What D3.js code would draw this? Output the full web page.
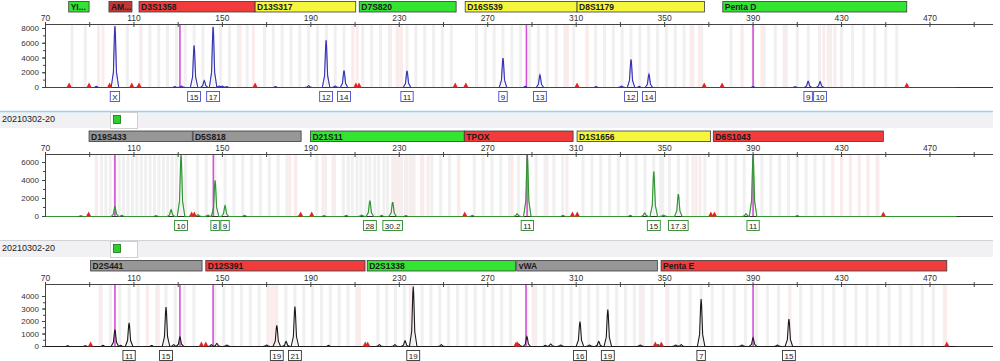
<!DOCTYPE html>
<html><head><meta charset="utf-8">
<script src="https://cdn.jsdelivr.net/npm/d3@7"></script>
<style>body{margin:0;background:#fff;} svg{display:block;font-family:"Liberation Sans",Arial,sans-serif;}</style>
</head><body><svg id="c" width="1000" height="361"></svg>
<script>
// ---------------- DATA ----------------
const sampleName = "20210302-20";
const xTicks = [70,110,150,190,230,270,310,350,390,430,470];
const xMinorTicks = [90,130,170,210,250,290,330,370,410,450,490];

// Panel 1 (blue)
const lociTopNames = ["YI...","AM...","D3S1358","D13S317","D7S820","D16S539","D8S1179","Penta D"];
const lociTopStart = [80.5, 98.7, 112.3, 164.8, 211.9, 259.8, 310.4, 376.3];
const lociTopEnd   = [89.7, 109.1, 164.8, 210.3, 255.7, 310.4, 368.0, 459.5];
const lociTopColor = ["green","darkred","red","yellow","green","yellow","yellow","green"];
const yTicksTop = [0,2000,4000,6000,8000];
const peaksTopBp = [80.5, 93.0, 101.4, 112.0, 128.5, 131.5, 137.2, 141.8, 145.8, 148.5, 150.0, 152.0, 174.0, 189.0, 196.9, 201.0, 205.0, 233.5, 276.9, 287.0, 293.6, 319.0, 330.5, 334.8, 338.5, 342.9, 390.0, 409.0, 414.9, 420.3];
const peaksTopH  = [60, 150, 8300, 120, 120, 200, 5700, 950, 8200, 200, 180, 120, 120, 250, 6400, 200, 2300, 2250, 4000, 150, 1700, 120, 200, 3800, 150, 1800, 120, 100, 850, 800];
const allelesTop   = ["X","15","17","12","14","11","9","13","12","14","9","10"];
const allelesTopBp = [101.4,137.2,145.8,196.9,205.0,233.5,276.9,293.6,334.8,342.9,414.9,420.3];
const redMarksTop = [80.7, 89.7, 99.0, 109.0, 112.3, 164.8, 210.4, 211.8, 255.3, 260.1, 310.4, 367.9, 376.0, 459.5];
const sizeStdTop = [130.8, 287.5, 390.0];
const binsTop = [82,88,101.4,107,113.2,117.2,121.2,125.2,129.2,133.2,137.2,141.2,145.8,149.2,153.2,157.2,161.2,169,173,177,181,185,189,193,197,201,205,209,213.5,217.5,221.5,225.5,229.5,233.5,237.5,241.5,245.5,249.5,253.5,264.9,268.9,272.9,276.9,280.9,284.9,288.9,292.9,296.9,300.9,304.9,308.9,314.8,318.8,322.8,326.8,330.8,334.8,338.8,342.8,346.8,350.8,354.8,358.8,362.8,366.8,380,385,390,395,400,405,410,415,420,425,430,435,440,445,450,455];
const pinkTop = [94,96,113,158,164,209,211,226,229,231,301,306,315,362,365.6,385,394,404,422,424,427];

// Panel 2 (green)
const lociMidNames = ["D19S433","D5S818","D21S11","TPOX","D1S1656","D6S1043"];
const lociMidStart = [89.7, 136.7, 189.8, 259.4, 310.4, 372.0];
const lociMidEnd   = [136.4, 185.6, 259.4, 308.6, 370.8, 448.9];
const lociMidColor = ["gray","gray","green","red","yellow","red"];
const yTicksMid = [0,2000,4000,6000];
const peaksMidBp = [86.0, 101.4, 104.5, 120.0, 126.8, 131.3, 139.0, 143.5, 146.7, 151.2, 160.0, 185.0, 196.0, 206.0, 213.0, 216.7, 222.0, 227.0, 233.0, 263.0, 283.3, 287.9, 304.0, 334.5, 341.0, 345.1, 349.5, 356.2, 386.8, 390.0, 410.0];
const peaksMidH  = [80, 1100, 120, 100, 750, 6800, 200, 150, 4000, 1200, 120, 120, 100, 120, 150, 1750, 120, 1600, 100, 120, 300, 6850, 120, 120, 400, 5000, 150, 2500, 300, 6800, 100];
const allelesMid   = ["10","8","9","28","30.2","11","15","17.3","11"];
const allelesMidBp = [131.3,146.7,151.2,216.7,227.0,287.9,345.1,356.2,390.0];
const redMarksMid = [89.5, 136.1, 137.3, 185.4, 190.4, 259.6, 308.3, 310.5, 370.9, 372.5, 448.9];
const sizeStdMid = [101.4, 145.9, 287.8, 390.0];
const binsMid = [95.3,97.3,99.3,101.3,103.3,105.3,107.3,109.3,111.3,113.3,115.3,117.3,119.3,121.3,123.3,125.3,127.3,129.3,131.3,133.3,138.7,142.7,146.7,151.2,155.2,159.2,163.2,167.2,171.2,175.2,179.2,183.2,192.7,196.7,200.7,204.7,206.9,208.7,210.9,212.7,214.9,216.7,218.9,220.7,223,224.7,227,228.7,231,232.7,235,236.7,240.7,244.7,248.7,252.7,256.7,263.9,267.9,271.9,275.9,279.9,283.9,287.9,291.9,295.9,299.9,303.9,313.1,317.1,321.1,325.1,329.1,333.1,337.1,341.1,345.1,348.2,349.1,352.2,356.2,360.2,364.2,368.2,374,378,382,386,390,394,398,402,406,410,414,418,422,426,430,434,438,442,446];
const pinkMid = [93,180.5,183,195.5,200,227.5,230,233.5,236,240,243,257,281,296.8,305.8,362.8,366,426,430,434,438,442,446.5];

// Panel 3 (black)
const lociBotNames = ["D2S441","D12S391","D2S1338","vWA","Penta E"];
const lociBotStart = [90.4, 142.5, 215.5, 283.1, 348.4];
const lociBotEnd   = [140.8, 214.5, 282.5, 346.7, 477.6];
const lociBotColor = ["gray","red","green","gray","red"];
const yTicksBot = [0,1000,2000,3000,4000];
const peaksBotBp = [80.0, 88.0, 96.0, 101.4, 104.0, 107.8, 118.0, 124.5, 128.0, 130.8, 145.0, 147.5, 152.0, 170.0, 174.6, 178.8, 182.8, 198.0, 221.0, 228.0, 232.6, 236.3, 249.0, 284.0, 287.7, 296.0, 298.5, 303.0, 311.7, 316.0, 320.2, 324.3, 339.0, 347.0, 355.0, 357.5, 366.5, 385.0, 390.0, 401.0, 406.2];
const peaksBotH  = [60, 60, 100, 1350, 100, 1900, 80, 3150, 150, 750, 150, 250, 120, 120, 1700, 400, 3200, 100, 150, 150, 450, 4800, 150, 200, 800, 100, 200, 120, 2000, 120, 400, 2950, 120, 150, 120, 150, 3800, 120, 700, 120, 2200];
const allelesBot   = ["11","15","19","21","19","16","19","7","15"];
const allelesBotBp = [107.8,124.5,174.6,182.8,236.3,311.7,324.3,366.5,406.2];
const redMarksBot = [90.4, 140.5, 142.5, 214.6, 215.7, 282.8, 283.4, 345.8, 348.5, 477.6];
const sizeStdBot = [101.4, 130.8, 145.8, 287.3, 390.0];
const binsBot = [95.2,99.4,103.6,107.8,111.9,116.1,120.3,124.5,128.7,132.9,137.1,146.6,150.6,154.6,158.6,162.6,166.6,170.6,174.6,178.7,182.8,186.8,190.8,194.8,198.8,202.8,206.8,210.8,220.3,224.3,228.3,232.3,236.3,240.3,244.3,248.3,252.3,256.3,260.3,264.3,268.3,272.3,276.3,280.3,287.7,291.7,295.7,299.7,303.7,307.7,311.7,315.7,319.7,324.3,328.3,332.3,336.3,340.3,344.3,351.5,356.5,361.5,366.5,371.5,376.5,381.5,386.5,391.5,396.5,401.5,406.5,411.5,416.5,421.5,426.5,431.5,436.5,441.5,446.5,451.5,456.5,461.5,466.5,471.5,476.5];
const pinkBot = [94.7,116,121,171,172.5,174,212,235,290.5,339,351,406.7,477];

// ---------------- RENDER ----------------
const svg = d3.select("#c");
const x = d3.scaleLinear().domain([70, 498.5]).range([45.5, 993]);
const barColors = {green:"#33e433", red:"#f23c3c", darkred:"#c23838", yellow:"#f6f63c", gray:"#979797"};

const panels = [
  {names:lociTopNames,start:lociTopStart,end:lociTopEnd,colors:lociTopColor,yTicks:yTicksTop,minor:1000,
   pBp:peaksTopBp,pH:peaksTopH,aTxt:allelesTop,aBp:allelesTopBp,red:redMarksTop,std:sizeStdTop,bins:binsTop,pink:pinkTop,
   barY:1.5,axisY:24,baseY:87,topVal:8000,topY:28,dye:"#3c3cd2",box:"#4a4ac8"},
  {names:lociMidNames,start:lociMidStart,end:lociMidEnd,colors:lociMidColor,yTicks:yTicksMid,minor:1000,
   pBp:peaksMidBp,pH:peaksMidH,aTxt:allelesMid,aBp:allelesMidBp,red:redMarksMid,std:sizeStdMid,bins:binsMid,pink:pinkMid,
   barY:131,axisY:154,baseY:216,topVal:6000,topY:162,dye:"#22b022",box:"#2a8a2a"},
  {names:lociBotNames,start:lociBotStart,end:lociBotEnd,colors:lociBotColor,yTicks:yTicksBot,minor:500,
   pBp:peaksBotBp,pH:peaksBotH,aTxt:allelesBot,aBp:allelesBotBp,red:redMarksBot,std:sizeStdBot,bins:binsBot,pink:pinkBot,
   barY:260.5,axisY:284,baseY:346,topVal:4000,topY:296,dye:"#1a1a1a",box:"#333"}
];

// header bands between panels
svg.append("rect").attr("x",0).attr("y",111).attr("width",993).attr("height",17).attr("fill","#f1f1f3");
svg.append("line").attr("x1",0).attr("x2",993).attr("y1",111.5).attr("y2",111.5).attr("stroke","#8fd6ea").attr("stroke-width",1.5);
svg.append("rect").attr("x",0).attr("y",240).attr("width",993).attr("height",17).attr("fill","#f1f1f3");
svg.append("line").attr("x1",0).attr("x2",993).attr("y1",240.5).attr("y2",240.5).attr("stroke","#d0d4d8").attr("stroke-width",1);
[[111,128],[240,257]].forEach(([y0,y1])=>{
  svg.append("text").attr("x",2).attr("y",y0+11).attr("font-size",9).attr("fill","#222").text(sampleName);
  svg.append("rect").attr("x",110.5).attr("y",y0+1.5).attr("width",27).attr("height",y1-y0-1).attr("fill","#fff").attr("stroke","#cfcfcf");
  svg.append("rect").attr("x",113.5).attr("y",y0+4.5).attr("width",7).attr("height",8).attr("fill","#2bd12b").attr("stroke","#1b6e1b").attr("stroke-width",0.8);
});

panels.forEach((p,pi)=>{
  const g = svg.append("g");
  const y = d3.scaleLinear().domain([0,p.topVal]).range([p.baseY,p.topY]);
  const clipId = "clip"+pi;
  svg.append("clipPath").attr("id",clipId).append("rect")
    .attr("x",45.5).attr("y",p.axisY+0.5).attr("width",993-45.5).attr("height",p.baseY-p.axisY+1);

  // bins
  const bg = g.append("g").attr("clip-path",`url(#${clipId})`);
  bg.selectAll("rect.bin").data(p.bins).join("rect").attr("class","bin")
    .attr("x",d=>x(d)-1.5).attr("width",3).attr("y",p.axisY+1).attr("height",p.baseY-p.axisY-1)
    .attr("fill","#f0f0f0");
  bg.selectAll("rect.pink").data(p.pink).join("rect").attr("class","pink")
    .attr("x",d=>x(d)-1.5).attr("width",3).attr("y",p.axisY+1).attr("height",p.baseY-p.axisY-1)
    .attr("fill","#fcebeb");

  // locus bars
  const lg = g.append("g");
  p.names.forEach((n,i)=>{
    lg.append("rect").attr("x",x(p.start[i])).attr("y",p.barY).attr("width",x(p.end[i])-x(p.start[i])).attr("height",10.5)
      .attr("fill",barColors[p.colors[i]]).attr("stroke","#3a3a3a").attr("stroke-width",0.8);
    lg.append("text").attr("x",x(p.start[i])+2).attr("y",p.barY+8.8).attr("font-size",8.5).attr("font-weight","bold")
      .attr("fill","#1a1a1a").text(n);
  });

  // x axis top
  g.append("line").attr("x1",45.5).attr("x2",993).attr("y1",p.axisY+0.5).attr("y2",p.axisY+0.5).attr("stroke","#444");
  g.selectAll("line.xt").data(xTicks.concat(xMinorTicks)).join("line").attr("class","xt")
    .attr("x1",d=>x(d)).attr("x2",d=>x(d)).attr("y1",p.axisY-2).attr("y2",p.axisY+3).attr("stroke","#444");
  g.selectAll("text.xl").data(xTicks).join("text").attr("class","xl")
    .attr("x",d=>x(d)).attr("y",p.axisY-3.5).attr("text-anchor","middle").attr("font-size",8.5).attr("fill","#333").text(d=>d);

  // y axis
  g.append("line").attr("x1",45.5).attr("x2",45.5).attr("y1",p.axisY).attr("y2",p.baseY).attr("stroke","#444");
  const minorVals = d3.range(0, p.topVal + p.minor/2 + 1, p.minor);
  g.selectAll("line.ym").data(minorVals).join("line").attr("class","ym")
    .attr("x1",43).attr("x2",46).attr("y1",d=>y(d)+0.5).attr("y2",d=>y(d)+0.5).attr("stroke","#444");
  g.selectAll("line.yt").data(p.yTicks).join("line").attr("class","yt")
    .attr("x1",42).attr("x2",46).attr("y1",d=>y(d)+0.5).attr("y2",d=>y(d)+0.5).attr("stroke","#444");
  g.selectAll("text.yl").data(p.yTicks).join("text").attr("class","yl")
    .attr("x",39).attr("y",d=>y(d)+3).attr("text-anchor","end").attr("font-size",8).attr("fill","#333").text(d=>d);

  // size-standard (magenta) lines
  g.selectAll("line.std").data(p.std).join("line").attr("class","std")
    .attr("x1",d=>x(d)).attr("x2",d=>x(d)).attr("y1",p.axisY+1).attr("y2",p.baseY).attr("stroke","#d84ed8").attr("stroke-width",1.6);

  // baseline
  g.append("line").attr("x1",45.5).attr("x2",993).attr("y1",p.baseY+0.5).attr("y2",p.baseY+0.5).attr("stroke","#333");

  // peaks trace
  const idx = d3.range(p.pBp.length).sort((a,b)=>p.pBp[a]-p.pBp[b]);
  const pts = [[70,0]];
  idx.forEach(i=>{
    const b=p.pBp[i], h=p.pH[i];
    pts.push([b-1.7,0],[b-0.7,h*0.25],[b-0.2,h*0.88],[b,h],[b+0.2,h*0.88],[b+0.7,h*0.25],[b+1.7,0]);
  });
  pts.push([482,0]);
  const line = d3.line().x(d=>x(d[0])).y(d=>y(d[1])+0.5);
  const pg = g.append("g").attr("clip-path",`url(#${clipId})`);
  pg.append("path").attr("d",line(pts)).attr("fill","none").attr("stroke",p.dye).attr("stroke-width",1.1);
  if (pi<2) pg.append("path").attr("d",line(pts)).attr("fill","none").attr("stroke",pi===0?"#26267a":"#555").attr("stroke-width",0.45).attr("opacity",0.7);

  // red markers
  g.selectAll("path.rm").data(p.red).join("path").attr("class","rm")
    .attr("d",d=>{const cx=x(d), by=p.baseY+0.5; return `M${cx-2.6},${by}L${cx},${by-5}L${cx+2.6},${by}Z`;})
    .attr("fill","#e52222");

  // allele labels
  const ag = g.append("g");
  p.aTxt.forEach((t,i)=>{
    const cx = x(p.aBp[i]);
    const tx = ag.append("text").attr("x",cx).attr("y",p.baseY+12.5).attr("text-anchor","middle").attr("font-size",8).attr("fill","#222").text(t);
    const w = tx.node().getComputedTextLength()+4;
    ag.insert("rect","text").attr("x",cx-w/2).attr("y",p.baseY+4.5).attr("width",w).attr("height",10)
      .attr("fill","#fff").attr("stroke",p.box).attr("stroke-width",0.9);
  });
});
</script></body></html>
